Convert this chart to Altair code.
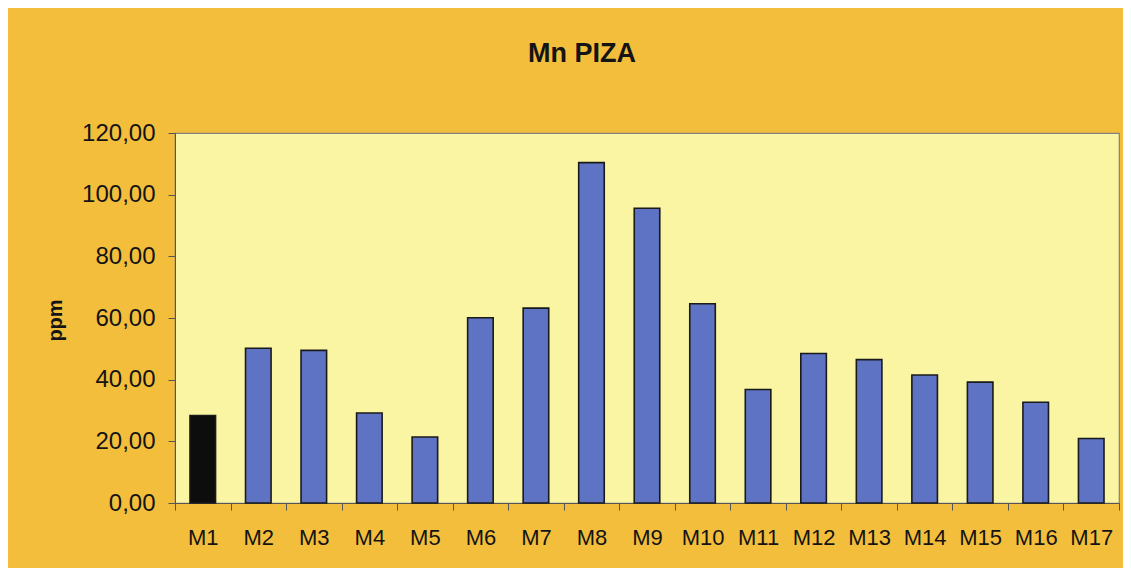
import altair as alt
import pandas as pd

categories = ["M1", "M2", "M3", "M4", "M5", "M6", "M7", "M8", "M9",
              "M10", "M11", "M12", "M13", "M14", "M15", "M16", "M17"]
values = [28.4, 50.2, 49.5, 29.2, 21.4, 60.1, 63.2, 110.4, 95.6,
          64.6, 36.8, 48.5, 46.5, 41.5, 39.2, 32.7, 20.9]
y_ticks = [0, 20, 40, 60, 80, 100, 120]

df = pd.DataFrame({"muestra": categories, "ppm": values})

FONT = "Liberation Sans"
TEXT = "#141414"

chart = alt.Chart(df).mark_bar(
    stroke="#1a1a1a", strokeWidth=1.6, width=alt.RelativeBandSize(0.46)
).encode(
    x=alt.X(
        "muestra:N",
        sort=categories,
        scale=alt.Scale(paddingInner=0, paddingOuter=0),
        axis=alt.Axis(
            title=None, labelAngle=0, ticks=True, tickBand="extent", tickSize=7,
            tickWidth=1, tickColor="#555555", domainColor="#555555",
            labelFont=FONT, labelFontSize=22, labelColor=TEXT, labelPadding=17,
        ),
    ),
    y=alt.Y(
        "ppm:Q",
        scale=alt.Scale(domain=[0, 120]),
        axis=alt.Axis(
            values=y_ticks, grid=False,
            labelExpr="replace(format(datum.value, '.2f'), '.', ',')",
            tickSize=7, tickColor="#555555", domainColor="#555555",
            labelFont=FONT, labelFontSize=24, labelColor=TEXT, labelPadding=13,
            title="ppm", titleFont=FONT, titleFontSize=20, titleFontWeight="bold",
            titleColor=TEXT, titleAngle=270, titleX=-120, titleY=187,
            titleAlign="center", titleBaseline="middle",
        ),
    ),
    color=alt.condition("datum.muestra == 'M1'", alt.value("#0d0d0d"), alt.value("#5F73C4")),
).properties(
    width=944,
    height=370,
    title=alt.TitleParams(
        "Mn PIZA", font=FONT, fontSize=27, fontWeight="bold", color=TEXT,
        anchor="middle", dx=-65, offset=53,
    ),
    autosize=alt.AutoSizeParams(type="none"),
    padding={"left": 167, "top": 125, "right": 4, "bottom": 65},
    background="#F3BE3C",
).configure_view(
    fill="#FAF5A3", stroke="#808080", strokeWidth=1.2
)

chart.save("out.html", embed_options={"renderer": "svg", "actions": False})
